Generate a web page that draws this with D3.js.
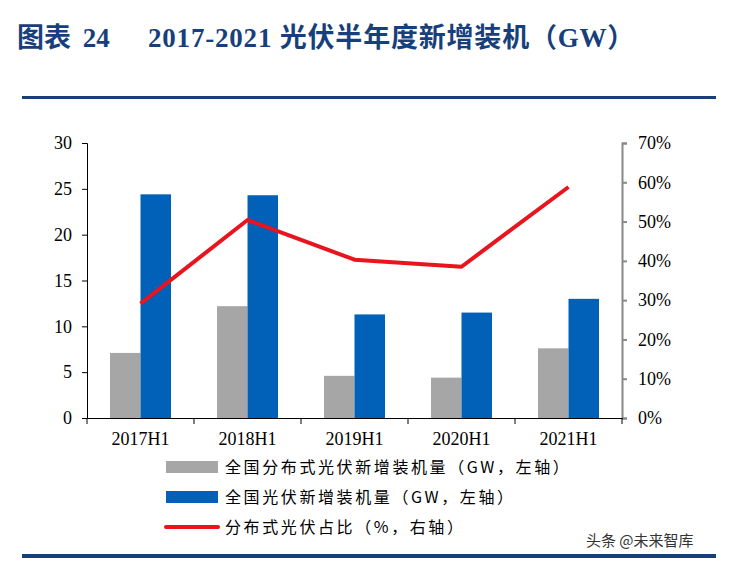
<!DOCTYPE html>
<html>
<head>
<meta charset="utf-8">
<script src="https://cdn.jsdelivr.net/npm/d3@7"></script>
<style>
  body { margin: 0; background: #fff; }
  svg { display: block; }
</style>
</head>
<body>
<script>
// data
var categories = ['2017H1', '2018H1', '2019H1', '2020H1', '2021H1'];
var distributed = [7.1, 12.2, 4.6, 4.4, 7.6];      // 全国分布式光伏新增装机量 (GW)
var total = [24.4, 24.3, 11.3, 11.5, 13.0];        // 全国光伏新增装机量 (GW)
var share = [29.1, 50.4, 40.3, 38.5, 58.8];        // 分布式光伏占比 (%)
var leftTicks = [0, 5, 10, 15, 20, 25, 30];
var rightTicks = [0, 10, 20, 30, 40, 50, 60, 70];
var seriesNames = ['全国分布式光伏新增装机量（GW，左轴）', '全国光伏新增装机量（GW，左轴）', '分布式光伏占比（%，右轴）'];

var W = 735, H = 562;
var plot = {left: 87, right: 622, top: 143, bottom: 418};
var grey = '#a6a6a6', blue = '#0160b8', red = '#e8141e', navy = '#173f7c';
var serif = '"Liberation Serif", "Times New Roman", serif';
var cjk = '"Noto Sans CJK SC", sans-serif';

var svg = d3.select('body').append('svg').attr('width', W).attr('height', H);

// title + rules
var titleFont = '"Liberation Serif", "Noto Sans CJK SC", serif';
svg.append('text')
	.attr('x', 17).attr('y', 47)
	.style('font-family', titleFont).style('font-weight', 'bold').style('font-size', '27px')
	.style('word-spacing', '5px')
	.style('fill', navy)
	.text('图表 24');
svg.append('text')
	.attr('x', 148).attr('y', 47)
	.style('font-family', titleFont).style('font-weight', 'bold').style('font-size', '27px')
	.style('letter-spacing', '0.8px')
	.style('fill', navy)
	.text('2017-2021 光伏半年度新增装机（GW）');
svg.append('rect').attr('x', 22).attr('y', 96).attr('width', 694).attr('height', 3).style('fill', navy);
svg.append('rect').attr('x', 22).attr('y', 554).attr('width', 694).attr('height', 4).style('fill', navy);

var x = d3.scaleBand().domain(categories).range([plot.left, plot.right]);
var xs = d3.scaleBand().domain([0, 1]).range([0, 61]).padding(0);
var yL = d3.scaleLinear().domain([0, 30]).range([plot.bottom, plot.top]);
var yR = d3.scaleLinear().domain([0, 70]).range([plot.bottom, plot.top]);

var groupOffset = (x.bandwidth() - 61) / 2;

// bars
[distributed, total].forEach(function (vals, si) {
	svg.append('g').selectAll('rect').data(vals).enter().append('rect')
		.attr('x', function (d, i) { return x(categories[i]) + groupOffset + xs(si); })
		.attr('y', function (d) { return yL(d); })
		.attr('width', xs.bandwidth())
		.attr('height', function (d) { return yL(0) - yL(d); })
		.style('fill', si === 0 ? grey : blue);
});

// line
var line = d3.line()
	.x(function (d, i) { return x(categories[i]) + x.bandwidth() / 2; })
	.y(function (d) { return yR(d); });
svg.append('path').datum(share).attr('d', line)
	.style('fill', 'none').style('stroke', red).style('stroke-width', 4)
	.style('stroke-linejoin', 'round');

// axes
var axL = svg.append('g').attr('transform', 'translate(' + plot.left + ',0)')
	.call(d3.axisLeft(yL).tickValues(leftTicks).tickSize(5).tickPadding(10));
var axR = svg.append('g').attr('transform', 'translate(' + plot.right + ',0)')
	.call(d3.axisRight(yR).tickValues(rightTicks).tickSize(5).tickPadding(11)
		.tickFormat(function (d) { return d + '%'; }));
var axB = svg.append('g').attr('transform', 'translate(0,' + plot.bottom + ')')
	.call(d3.axisBottom(x).tickSize(0).tickPadding(14));

// category boundary ticks on the bottom axis
axB.selectAll('.bound').data(d3.range(categories.length + 1)).enter().append('line')
	.attr('x1', function (i) { return plot.left + i * x.step(); })
	.attr('x2', function (i) { return plot.left + i * x.step(); })
	.attr('y1', 0).attr('y2', 6)
	.style('stroke', '#000');

[axL, axR, axB].forEach(function (a) {
	a.selectAll('text').style('font-family', serif).style('font-size', '18px').style('fill', '#000');
});
axL.selectAll('path, line').style('stroke', '#000');
axB.select('.domain').style('stroke', '#000');
axR.selectAll('path, line').style('stroke', '#888').style('stroke-width', 2);

// legend
var legend = svg.append('g').attr('transform', 'translate(166,467)');
seriesNames.forEach(function (name, i) {
	var g = legend.append('g').attr('transform', 'translate(0,' + (i * 30) + ')');
	if (i < 2) {
		g.append('rect').attr('x', 0).attr('y', -6).attr('width', 52).attr('height', 12)
			.style('fill', i === 0 ? grey : blue);
	} else {
		g.append('line').attr('x1', 0).attr('x2', 52).attr('y1', 0).attr('y2', 0)
			.style('stroke', red).style('stroke-width', 4).style('stroke-linecap', 'round');
	}
	g.append('text').attr('x', 59).attr('y', 6)
		.style('font-family', cjk).style('font-size', '16px').style('letter-spacing', '2.6px')
		.style('fill', '#000')
		.text(name);
});

// watermark
svg.append('text').attr('x', 586).attr('y', 546)
	.style('font-family', cjk).style('font-size', '15px').style('fill', '#333')
	.text('头条 @未来智库');
</script>
</body>
</html>
